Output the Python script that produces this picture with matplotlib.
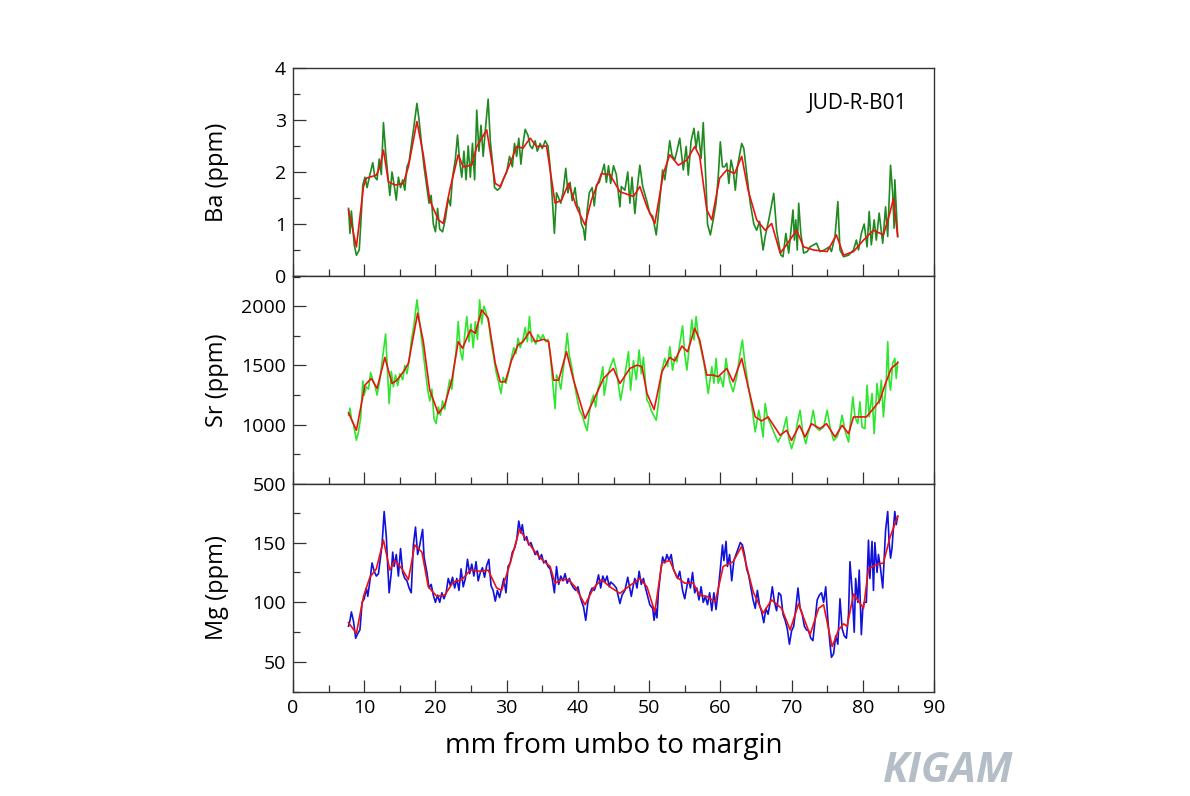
import matplotlib
matplotlib.use("Agg")
import matplotlib.pyplot as plt
from matplotlib.ticker import MultipleLocator

plt.rcParams["font.family"] = ["Open Sans", "DejaVu Sans"]

# ── data (mm from umbo, ppm) ─────────────────────────────────
ba_x = [7.8, 8.0, 8.2, 8.6, 8.9, 9.3, 9.6, 9.8, 10.1, 10.4, 10.8, 11.2, 11.5, 11.8, 12.1,
        12.4, 12.7, 13.0, 13.3, 13.6, 13.9, 14.2, 14.5, 14.8, 15.1, 15.4, 15.7, 16.0, 16.3,
        16.6, 17.0, 17.4, 17.7, 18.0, 18.4, 18.8, 19.1, 19.4, 19.7, 20.0, 20.3, 20.6, 21.0,
        21.4, 21.8, 22.1, 22.4, 22.8, 23.1, 23.4, 23.7, 24.0, 24.3, 24.6, 24.9, 25.2, 25.5,
        25.8, 26.1, 26.4, 26.7, 27.0, 27.4, 27.7, 28.0, 28.3, 28.7, 29.1, 29.5, 30.0, 30.4,
        30.8, 31.1, 31.4, 31.7, 32.0, 32.3, 32.6, 33.0, 33.3, 33.6, 34.0, 34.3, 34.7, 35.0,
        35.4, 35.8, 36.1, 36.4, 36.7, 37.0, 37.3, 37.6, 37.9, 38.3, 38.6, 38.9, 39.2, 39.6,
        39.9, 40.2, 40.5, 40.8, 41.0, 41.3, 41.6, 42.0, 42.3, 42.6, 43.0, 43.4, 43.7, 44.0,
        44.3, 44.6, 45.0, 45.4, 45.9, 46.1, 46.6, 47.0, 47.3, 47.6, 48.0, 48.3, 48.7, 49.1,
        49.7, 50.1, 50.5, 51.0, 51.5, 51.9, 52.2, 52.6, 52.9, 53.2, 53.6, 53.9, 54.3, 54.8,
        55.2, 55.5, 55.9, 56.3, 56.6, 56.9, 57.3, 57.6, 58.0, 58.2, 58.6, 59.0, 59.4, 59.7,
        60.0, 60.3, 60.6, 60.9, 61.2, 61.5, 61.8, 62.1, 62.4, 63.0, 63.3, 63.7, 64.2, 64.7,
        65.1, 65.5, 66.0, 66.3, 66.8, 67.5, 67.9, 68.5, 68.8, 69.2, 69.6, 70.2, 70.4, 70.6,
        70.8, 71.0, 71.3, 71.7, 72.2, 72.6, 73.5, 74.0, 74.6, 75.3, 75.6, 76.1, 76.5, 76.8,
        77.3, 78.0, 78.7, 79.1, 79.4, 79.8, 80.2, 80.6, 80.9, 81.2, 81.6, 81.9, 82.3, 82.8,
        83.2, 83.5, 83.9, 84.2, 84.4, 84.5, 84.9]
ba_raw = [1.30, 0.82, 1.25, 0.60, 0.40, 0.50, 1.20, 1.75, 1.90, 1.70, 1.95, 2.18, 1.90, 1.85, 2.25,
          1.95, 2.95, 2.40, 1.95, 1.55, 2.00, 1.75, 1.46, 1.90, 1.70, 1.85, 1.65, 2.10, 2.20,
          2.50, 2.90, 3.32, 3.00, 2.60, 2.10, 1.70, 1.40, 1.55, 1.00, 0.85, 1.30, 0.90, 0.85,
          1.10, 1.50, 1.35, 1.90, 2.25, 2.71, 2.20, 1.90, 2.40, 1.85, 2.50, 1.90, 2.55, 1.85,
          3.19, 2.40, 2.90, 2.30, 2.80, 3.40, 2.60, 2.20, 1.70, 1.65, 1.70, 1.85, 2.00, 2.30,
          2.10, 2.55, 2.30, 2.65, 2.15, 2.55, 2.82, 2.70, 2.50, 2.45, 2.60, 2.40, 2.55, 2.45,
          2.60, 2.50, 2.10, 1.50, 0.82, 1.60, 1.50, 1.40, 1.60, 2.07, 1.60, 1.80, 1.45, 1.70,
          1.35, 1.30, 1.00, 0.90, 0.69, 1.25, 1.60, 1.70, 1.35, 1.75, 1.80, 2.00, 2.15, 1.80,
          2.12, 1.78, 2.12, 1.95, 1.33, 1.72, 1.65, 2.00, 1.40, 1.90, 1.20, 1.65, 2.13, 1.72,
          1.43, 1.20, 1.15, 0.79, 1.46, 2.04, 1.85, 2.25, 2.60, 2.33, 2.23, 2.40, 2.65, 2.04,
          2.49, 1.94, 2.60, 2.84, 2.46, 2.78, 2.26, 2.95, 1.75, 1.00, 0.79, 1.08, 1.40, 1.90,
          2.58, 2.10, 2.10, 2.17, 1.78, 2.23, 2.04, 1.65, 2.10, 2.55, 2.45, 1.97, 1.40, 1.00,
          0.88, 1.05, 0.50, 0.76, 1.08, 1.59, 0.88, 0.40, 0.37, 0.82, 0.44, 1.27, 0.69, 1.08,
          0.50, 1.40, 0.82, 0.44, 0.47, 0.56, 0.63, 0.47, 0.50, 0.56, 0.47, 0.76, 1.43, 0.50,
          0.37, 0.40, 0.50, 0.69, 0.50, 0.82, 1.00, 0.56, 1.24, 0.60, 1.08, 0.69, 1.21, 0.63,
          1.33, 0.76, 2.13, 1.59, 0.92, 1.85, 0.76]

ba_sx = [7.8, 8.9, 9.9, 10.3, 11.7, 12.2, 12.7, 13.4, 14.3, 15.5, 16.2, 17.4, 18.3, 19.2,
         20.4, 21.1, 22.0, 23.2, 23.9, 25.1, 25.8, 27.2, 28.4, 29.1, 30.5, 31.4, 32.3, 33.3,
         34.2, 35.6, 36.8, 37.7, 38.7, 39.8, 41.0, 41.9, 43.3, 44.5, 45.9, 47.8, 48.7, 49.7,
         50.8, 52.0, 52.9, 54.1, 55.3, 56.4, 57.1, 58.1, 58.8, 59.9, 60.9, 62.0, 63.0, 63.9,
         65.1, 66.3, 67.2, 68.4, 69.3, 70.7, 71.7, 73.1, 75.0, 76.3, 77.3, 78.7, 80.1, 81.5,
         82.9, 83.8, 84.3, 84.9]
ba_smooth = [1.27, 0.56, 1.72, 1.88, 1.94, 2.10, 2.42, 1.81, 1.75, 1.78, 2.10, 2.97, 2.33, 1.46,
             1.08, 1.01, 1.65, 2.33, 2.10, 2.13, 2.49, 2.81, 1.78, 1.72, 2.17, 2.49, 2.46, 2.65,
             2.49, 2.50, 1.40, 1.46, 1.78, 1.33, 0.98, 1.46, 1.97, 1.95, 1.62, 1.53, 1.72, 1.33,
             1.01, 1.97, 2.33, 2.13, 2.23, 2.49, 2.30, 1.27, 1.08, 1.88, 2.04, 1.97, 2.30, 1.65,
             1.08, 0.88, 1.01, 0.44, 0.60, 0.88, 0.56, 0.50, 0.47, 0.79, 0.40, 0.47, 0.69, 0.88,
             0.79, 1.21, 1.49, 0.76]

sr_x = [7.8, 8.0, 8.2, 8.5, 8.9, 9.2, 9.5, 9.8, 10.0, 10.3, 10.6, 10.9, 11.2, 11.5, 11.8,
        12.2, 12.4, 13.0, 13.3, 13.5, 13.8, 14.1, 14.4, 14.7, 15.0, 15.4, 15.7, 16.0, 16.3,
        16.6, 17.0, 17.4, 17.7, 18.0, 18.5, 18.9, 19.2, 19.5, 19.8, 20.1, 20.4, 20.7, 21.0,
        21.3, 21.7, 22.0, 22.3, 22.6, 22.9, 23.2, 23.5, 23.8, 24.1, 24.4, 24.7, 25.0, 25.3,
        25.6, 25.9, 26.2, 26.5, 26.8, 27.1, 27.5, 27.8, 28.1, 28.5, 28.9, 29.2, 29.5, 29.9,
        30.3, 30.6, 31.0, 31.3, 31.6, 31.9, 32.3, 32.6, 32.9, 33.2, 33.5, 33.8, 34.1, 34.4,
        34.8, 35.1, 35.5, 35.8, 36.1, 36.4, 36.8, 37.0, 37.3, 37.6, 37.9, 38.2, 38.5, 38.8,
        39.1, 39.5, 39.8, 40.2, 40.6, 41.0, 41.3, 41.6, 41.9, 42.2, 42.5, 42.8, 43.1, 43.5,
        43.7, 44.1, 44.5, 45.0, 45.4, 46.0, 46.5, 47.1, 47.4, 47.8, 48.2, 48.6, 48.9, 49.2,
        49.7, 50.0, 50.3, 51.0, 51.3, 51.8, 52.2, 52.6, 52.9, 53.3, 53.6, 53.9, 54.7, 55.0,
        55.3, 55.7, 56.0, 56.3, 56.6, 56.9, 57.3, 57.7, 58.0, 58.3, 58.8, 59.1, 59.4, 59.7,
        60.0, 60.4, 60.8, 61.1, 61.4, 61.8, 62.3, 62.7, 63.1, 63.4, 63.8, 64.1, 64.5, 64.9,
        65.4, 65.7, 66.0, 66.3, 66.6, 67.0, 67.4, 68.1, 68.7, 69.3, 69.6, 70.0, 70.5, 70.8,
        71.2, 71.6, 72.0, 72.3, 72.6, 73.05, 73.4, 73.9, 74.5, 75.0, 75.4, 75.9, 76.4, 76.7,
        77.1, 77.5, 78.0, 78.3, 78.6, 78.9, 79.3, 79.6, 79.9, 80.3, 80.6, 80.9, 81.3, 81.6,
        82.0, 82.3, 82.6, 82.9, 83.3, 83.5, 83.7, 83.9, 84.2, 84.5, 84.7, 84.9]
sr_raw = [1080, 1140, 1050, 1000, 870, 940, 1060, 1370, 1250, 1320, 1300, 1440, 1380, 1330, 1250,
          1380, 1480, 1766, 1420, 1180, 1450, 1320, 1420, 1330, 1430, 1380, 1500, 1430, 1540,
          1700, 1850, 2054, 1900, 1750, 1500, 1300, 1200, 1300, 1050, 1010, 1150, 1080, 1200,
          1130, 1280, 1380, 1300, 1480, 1620, 1870, 1620, 1546, 1750, 1913, 1700, 1850, 1650,
          1870, 1720, 2054, 1850, 2000, 1950, 1850, 1700, 1600, 1450, 1350, 1264, 1400, 1350,
          1450, 1550, 1650, 1600, 1730, 1650, 1720, 1820, 1700, 1913, 1700, 1720, 1680, 1760,
          1720, 1760, 1700, 1720, 1600, 1400, 1136, 1420, 1380, 1300, 1450, 1580, 1772, 1580,
          1500, 1350, 1250, 1130, 1080, 1000, 950, 1100, 1200, 1250, 1150, 1300, 1350, 1489,
          1249, 1400, 1480, 1560, 1460, 1207, 1380, 1616, 1292, 1540, 1380, 1630, 1430, 1570,
          1207, 1180, 1120, 1038, 1180, 1460, 1560, 1490, 1659, 1460, 1570, 1530, 1834, 1600,
          1461, 1690, 1885, 1715, 1913, 1740, 1630, 1520, 1400, 1264, 1490, 1350, 1560, 1350,
          1405, 1320, 1560, 1430, 1350, 1278, 1405, 1575, 1715, 1546, 1376, 1264, 1122, 939,
          1122, 1024, 897, 1179, 1066, 1010, 953, 854, 925, 1066, 882, 798, 897, 1010,
          1122, 925, 840, 925, 980, 1122, 980, 953, 980, 1122, 980, 868, 897, 953,
          1080, 953, 854, 1038, 1235, 1066, 1010, 1193, 980, 967, 1334, 1066, 1264, 925,
          1348, 1179, 1376, 1066, 1376, 1701, 1376, 1292, 1518, 1560, 1391, 1532]

sr_sx = [7.8, 8.9, 10.1, 11.0, 11.8, 12.9, 13.9, 14.6, 15.5, 16.2, 17.5, 18.3, 19.2, 20.4,
         21.3, 22.3, 23.2, 23.8, 24.9, 25.6, 26.5, 27.4, 28.4, 29.1, 29.8, 30.7, 31.6, 32.3,
         33.2, 34.0, 35.2, 35.9, 36.6, 37.3, 38.4, 39.4, 41.0, 42.2, 43.6, 44.98, 45.9, 47.3,
         48.3, 49.0, 49.7, 50.7, 51.8, 52.9, 53.6, 54.6, 55.4, 56.4, 57.1, 58.1, 59.0, 59.7,
         60.9, 61.8, 63.0, 63.9, 64.9, 65.8, 66.7, 68.4, 69.3, 70.0, 71.1, 71.9, 72.8, 74.0,
         74.9, 76.1, 77.1, 78.0, 78.7, 79.6, 80.5, 81.5, 82.4, 83.1, 84.0, 84.9]
sr_smooth = [1100, 953, 1334, 1391, 1306, 1568, 1348, 1376, 1447, 1518, 1941, 1701, 1292, 1094,
             1165, 1376, 1701, 1645, 1800, 1772, 1969, 1899, 1518, 1362, 1362, 1546, 1673, 1701,
             1786, 1701, 1721, 1701, 1376, 1376, 1616, 1376, 1052, 1207, 1391, 1475, 1348, 1475,
             1503, 1489, 1264, 1128, 1447, 1568, 1540, 1664, 1616, 1814, 1715, 1419, 1419, 1405,
             1475, 1362, 1560, 1320, 1066, 1032, 1066, 911, 953, 868, 995, 897, 1009, 967,
             1009, 897, 995, 925, 1066, 1066, 1066, 1136, 1207, 1334, 1475, 1523]

mg_x = [7.8, 8.0, 8.2, 8.5, 8.8, 9.1, 9.4, 9.7, 10.0, 10.3, 10.5, 10.8, 11.1, 11.4, 11.7,
        12.0, 12.3, 12.5, 12.8, 13.1, 13.3, 13.5, 13.8, 14.0, 14.2, 14.5, 14.8, 15.1, 15.4,
        15.7, 16.0, 16.3, 16.6, 16.9, 17.2, 17.5, 17.8, 18.2, 18.4, 18.8, 19.1, 19.4, 19.7,
        20.0, 20.3, 20.6, 20.9, 21.2, 21.5, 21.8, 22.1, 22.4, 22.7, 23.0, 23.3, 23.6, 23.9,
        24.2, 24.5, 24.8, 25.1, 25.4, 25.7, 26.0, 26.3, 26.6, 26.9, 27.2, 27.5, 27.8, 28.1,
        28.4, 28.7, 29.0, 29.3, 29.6, 29.9, 30.2, 30.5, 30.8, 31.1, 31.4, 31.7, 32.0, 32.2,
        32.5, 32.8, 33.1, 33.4, 33.7, 34.0, 34.3, 34.6, 34.9, 35.2, 35.5, 35.8, 36.1, 36.4,
        36.7, 37.0, 37.3, 37.6, 37.9, 38.2, 38.5, 38.8, 39.1, 39.4, 39.7, 40.0, 40.4, 40.8,
        41.1, 41.4, 41.7, 42.0, 42.3, 42.6, 42.9, 43.2, 43.5, 43.8, 44.1, 44.4, 44.6, 45.0,
        45.4, 45.9, 46.2, 46.6, 47.0, 47.5, 47.8, 48.0, 48.3, 48.6, 48.9, 49.2, 49.5, 49.8,
        50.1, 50.5, 50.7, 50.9, 51.1, 51.3, 51.6, 51.9, 52.2, 52.5, 52.8, 53.1, 53.4, 53.7,
        54.0, 54.3, 54.7, 55.0, 55.5, 55.8, 56.1, 56.4, 56.7, 57.0, 57.3, 57.6, 57.9, 58.2,
        58.5, 58.8, 59.1, 59.4, 59.7, 60.0, 60.3, 60.5, 60.8, 61.0, 61.3, 61.6, 61.9, 62.2,
        62.5, 62.8, 63.1, 63.4, 63.7, 64.0, 64.3, 64.6, 64.9, 65.2, 65.5, 65.8, 66.1, 66.4,
        66.7, 67.0, 67.3, 67.6, 67.9, 68.2, 68.5, 68.8, 69.1, 69.4, 69.7, 70.0, 70.3, 70.6,
        70.9, 71.2, 71.5, 71.8, 72.1, 72.4, 72.7, 73.0, 73.3, 73.6, 73.9, 74.2, 74.5, 74.8,
        75.1, 75.4, 75.6, 75.9, 76.2, 76.5, 76.8, 77.1, 77.4, 77.7, 78.0, 78.2, 78.5, 78.8,
        79.0, 79.3, 79.5, 79.8, 80.0, 80.2, 80.5, 80.8, 81.0, 81.3, 81.5, 81.7, 82.0, 82.2,
        82.5, 82.8, 83.2, 83.5, 83.7, 83.9, 84.1, 84.3, 84.5, 84.7, 84.9]
mg_raw = [80, 85, 92, 84, 70, 74, 77, 100, 103, 112, 105, 118, 133, 126, 122,
          124, 138, 148, 176, 155, 130, 108, 125, 142, 130, 140, 122, 145, 125,
          120, 118, 112, 108, 148, 163, 140, 148, 161, 138, 125, 112, 115, 106,
          100, 106, 100, 108, 103, 108, 120, 114, 121, 112, 120, 110, 128, 113,
          120, 136, 124, 132, 122, 134, 118, 125, 129, 121, 131, 136, 114, 110,
          101, 110, 104, 112, 120, 108, 130, 133, 142, 145, 152, 168, 158, 165,
          152, 155, 148, 150, 145, 140, 143, 136, 140, 133, 135, 130, 128, 120,
          108, 130, 115, 122, 118, 124, 116, 120, 115, 112, 110, 113, 103, 96,
          85, 100, 108, 112, 110, 115, 123, 112, 122, 117, 122, 113, 117, 115,
          112, 99, 106, 110, 121, 105, 115, 120, 112, 126, 115, 120, 112, 105,
          98, 95, 85, 95, 87, 108, 125, 138, 133, 140, 135, 140, 128, 124,
          120, 126, 110, 103, 120, 112, 125, 108, 112, 102, 113, 100, 105, 98,
          108, 93, 108, 94, 110, 128, 148, 135, 151, 130, 140, 118, 135, 140,
          145, 150, 148, 140, 128, 122, 112, 102, 95, 110, 98, 92, 83, 95,
          90, 100, 113, 100, 93, 108, 106, 90, 85, 78, 65, 76, 80, 95,
          112, 95, 90, 80, 77, 76, 70, 68, 85, 102, 106, 108, 100, 113,
          85, 65, 54, 57, 72, 65, 103, 78, 72, 70, 90, 134, 110, 75,
          120, 100, 127, 73, 95, 100, 100, 152, 120, 151, 110, 150, 125, 140,
          128, 112, 160, 176, 150, 137, 145, 162, 176, 165, 172]

mg_sx = [7.8, 8.9, 9.9, 10.8, 11.7, 12.7, 13.6, 14.3, 15.3, 16.2, 17.1, 18.1, 19.0, 20.2,
         21.3, 22.5, 23.7, 24.9, 26.3, 27.4, 28.6, 29.3, 30.5, 31.8, 32.8, 34.0, 35.1, 36.1,
         36.8, 37.7, 38.7, 39.6, 41.0, 42.2, 43.3, 44.5, 45.9, 47.3, 48.7, 49.7, 50.8, 51.8,
         52.9, 53.9, 55.0, 56.2, 57.1, 58.1, 59.3, 60.4, 61.8, 63.0, 63.7, 64.6, 66.0, 67.2,
         68.6, 69.8, 71.0, 71.7, 72.6, 73.8, 74.5, 75.7, 76.6, 77.3, 77.8, 78.7, 80.1, 80.8,
         81.7, 82.9, 83.8, 84.9]
mg_smooth = [83, 74, 105, 121, 128, 152, 127, 135, 128, 119, 148, 142, 113, 105,
             106, 117, 119, 127, 126, 127, 112, 110, 133, 161, 152, 142, 135, 130,
             116, 119, 119, 113, 98, 112, 119, 113, 107.5, 114, 120, 113, 92, 133,
             135, 121, 116, 116, 106, 105, 100.5, 130, 134, 147, 130, 109, 91, 102,
             95, 77, 99, 87, 73, 95, 98, 63, 77, 82, 80, 107, 95, 128,
             131, 133, 154, 172]

x_ticks = [0, 10, 20, 30, 40, 50, 60, 70, 80, 90]
sample_id = "JUD-R-B01"

# ── layout ───────────────────────────────────────────────────
W, H = 1190, 796
fig = plt.figure(figsize=(W / 100, H / 100), dpi=100)

left, right = 293 / W, 934 / W
edges = [68, 276, 484, 692]  # panel boundaries in pixels from top

panels = [
    ("Ba (ppm)", ba_x, ba_raw, ba_sx, ba_smooth, "#1f8a1f", (0, 4), [0, 1, 2, 3, 4], 0.5),
    ("Sr (ppm)", sr_x, sr_raw, sr_sx, sr_smooth, "#2ee62e", (500, 2255), [500, 1000, 1500, 2000], 250),
    ("Mg (ppm)", mg_x, mg_raw, mg_sx, mg_smooth, "#1111dd", (25, 199), [50, 100, 150], 25),
]

axes = []
for i, (label, xr, yr, xs, ys, col, ylim, yt, ymin) in enumerate(panels):
    top, bot = edges[i], edges[i + 1]
    ax = fig.add_axes([left, 1 - bot / H, right - left, (bot - top) / H])
    ax.plot(xr, yr, color=col, lw=1.2, zorder=2)
    ax.plot(xs, ys, color="#ee1111", lw=1.2, zorder=3)

    ax.set_xlim(0, 90)
    ax.set_ylim(*ylim)
    ax.set_xticks(x_ticks)
    ax.xaxis.set_minor_locator(MultipleLocator(5))
    ax.set_yticks(yt)
    ax.yaxis.set_minor_locator(MultipleLocator(ymin))

    ax.tick_params(which="major", direction="in", length=9, width=0.9,
                   color="#333333", labelsize=14, pad=5)
    ax.tick_params(which="minor", direction="in", length=5, width=0.9, color="#333333")
    for sp in ax.spines.values():
        sp.set_color("#333333")
        sp.set_linewidth(1.0)

    ax.set_ylabel(label, fontsize=17)
    ax.yaxis.set_label_coords(-0.10, 0.5)
    if i < 2:
        ax.tick_params(axis="x", which="both", labelbottom=False)
    axes.append(ax)

axes[0].text(0.88, 0.83, sample_id, transform=axes[0].transAxes,
             ha="center", va="center", fontsize=15)

axes[2].set_xlabel("mm from umbo to margin", fontsize=20)
axes[2].xaxis.set_label_coords(0.5, -0.19)

# faint watermark in the lower right corner
fig.text(948 / W, 4 / H, "KIGAM", ha="center", va="bottom", fontsize=30,
         fontweight="bold", style="italic", color="#a3adb8", alpha=0.8)

fig.savefig("out.png", dpi=100)
